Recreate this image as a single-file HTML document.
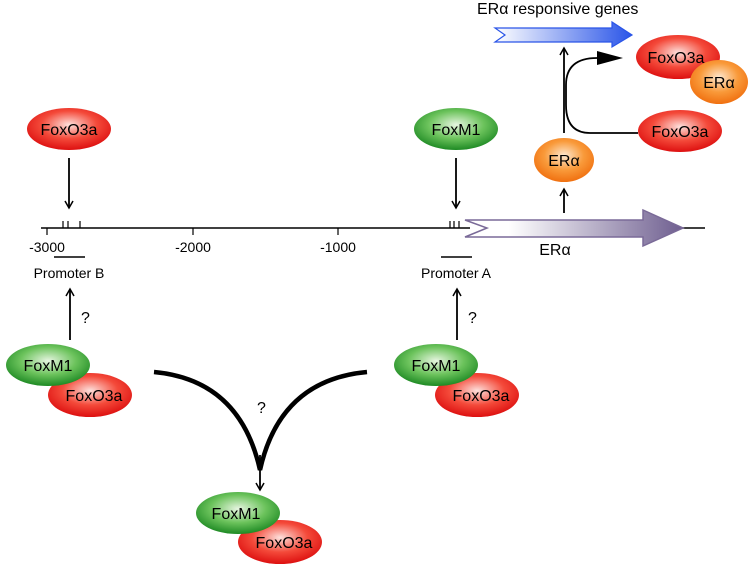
<!DOCTYPE html>
<html><head><style>body{margin:0;background:#fff}svg{display:block}</style></head><body>
<svg width="756" height="572" viewBox="0 0 756 572" xmlns="http://www.w3.org/2000/svg" font-family="Liberation Sans, sans-serif">
<defs>
<radialGradient id="g" cx="50%" cy="40%" r="60%"><stop offset="0" stop-color="#e6f5e0"/><stop offset="0.55" stop-color="#6cc35c"/><stop offset="1" stop-color="#1e8a24"/></radialGradient>
<radialGradient id="r" cx="50%" cy="40%" r="60%"><stop offset="0" stop-color="#fde0dc"/><stop offset="0.55" stop-color="#f44a3a"/><stop offset="1" stop-color="#dd1010"/></radialGradient>
<radialGradient id="o" cx="50%" cy="40%" r="60%"><stop offset="0" stop-color="#fde8d0"/><stop offset="0.55" stop-color="#f99a3a"/><stop offset="1" stop-color="#f07010"/></radialGradient>
<linearGradient id="pu" x1="0" x2="1"><stop offset="0" stop-color="#fff"/><stop offset="0.2" stop-color="#fff"/><stop offset="1" stop-color="#6f5f90"/></linearGradient>
<linearGradient id="bl" x1="0" x2="1"><stop offset="0" stop-color="#fff"/><stop offset="1" stop-color="#2a55e8"/></linearGradient>
<marker id="a" markerWidth="10" markerHeight="10" refX="8" refY="5" orient="auto" markerUnits="userSpaceOnUse"><path d="M1,1 L8,5 L1,9" fill="none" stroke="#000" stroke-width="1.5"/></marker>
</defs>
<g font-size="15" fill="#000">
<line x1="41" y1="228" x2="470" y2="228" stroke="#000" stroke-width="1.5"/>
<line x1="680" y1="228" x2="705" y2="228" stroke="#000" stroke-width="1.5"/>
<polygon points="465,220 643,220 643,210 683,228 643,246 643,237 465,237 487,228" fill="url(#pu)" stroke="#7a6a98" stroke-width="1.5"/>
<text x="555" y="255" text-anchor="middle" font-size="16">ERα</text>
<g stroke="#000" stroke-width="1.2">
<line x1="47" y1="228" x2="47" y2="235"/><line x1="193" y1="228" x2="193" y2="235"/><line x1="338" y1="228" x2="338" y2="235"/>
<line x1="63" y1="221" x2="63" y2="228"/><line x1="68" y1="221" x2="68" y2="228"/><line x1="80" y1="221" x2="80" y2="228"/>
<line x1="450" y1="221" x2="450" y2="228"/><line x1="454" y1="221" x2="454" y2="228"/><line x1="459" y1="221" x2="459" y2="228"/>
<line x1="54" y1="257" x2="85" y2="257" stroke-width="1.5"/><line x1="441" y1="257" x2="472" y2="257" stroke-width="1.5"/>
</g>
<g font-size="14" text-anchor="middle">
<text x="47" y="252">-3000</text><text x="193" y="252">-2000</text><text x="338" y="252">-1000</text>
<text x="69" y="278">Promoter B</text><text x="456" y="278">Promoter A</text>
</g>
<g stroke="#000" stroke-width="1.8" fill="none" marker-end="url(#a)">
<line x1="69" y1="158" x2="69" y2="208"/>
<line x1="456" y1="158" x2="456" y2="208"/>
<line x1="564" y1="213" x2="564" y2="189"/>
<line x1="564" y1="133" x2="564" y2="48"/>
<line x1="70" y1="340" x2="70" y2="289"/>
<line x1="457" y1="340" x2="457" y2="289"/>
<line x1="260" y1="455" x2="260" y2="490"/>
</g>
<path d="M638,133 L590,133 Q566,133 566,105 L566,85 Q566,58 597,58" fill="none" stroke="#000" stroke-width="1.8"/>
<polygon points="597,51 623,58 597,65" fill="#000"/>
<path d="M154,372 Q240,380 260,470 Q280,380 367,372" fill="none" stroke="#000" stroke-width="4.5"/>
<text x="81" y="323" font-size="16">?</text><text x="468" y="323" font-size="16">?</text><text x="257" y="413" font-size="16">?</text>
<polygon points="495,28 612,28 612,22 632,35 612,47 612,42 495,42 505,35" fill="url(#bl)" stroke="#2a55e8" stroke-width="1.2"/>
<text x="477" y="14" font-size="16">ERα responsive genes</text>
<g text-anchor="middle" font-size="16">
<ellipse cx="69" cy="129" rx="42" ry="21" fill="url(#r)"/><text x="69" y="135">FoxO3a</text>
<ellipse cx="456" cy="129" rx="42" ry="21" fill="url(#g)"/><text x="456" y="135">FoxM1</text>
<ellipse cx="564" cy="160" rx="30" ry="22" fill="url(#o)"/><text x="564" y="166">ERα</text>
<ellipse cx="678" cy="57" rx="42" ry="22" fill="url(#r)"/><text x="676" y="63">FoxO3a</text>
<ellipse cx="719" cy="82" rx="29" ry="22" fill="url(#o)"/><text x="719" y="88">ERα</text>
<ellipse cx="680" cy="131" rx="42" ry="21" fill="url(#r)"/><text x="680" y="137">FoxO3a</text>
<ellipse cx="90" cy="395" rx="42" ry="22" fill="url(#r)"/><text x="94" y="401">FoxO3a</text>
<ellipse cx="48" cy="365" rx="42" ry="21" fill="url(#g)"/><text x="48" y="371">FoxM1</text>
<ellipse cx="477" cy="395" rx="42" ry="22" fill="url(#r)"/><text x="481" y="401">FoxO3a</text>
<ellipse cx="436" cy="365" rx="42" ry="21" fill="url(#g)"/><text x="436" y="371">FoxM1</text>
<ellipse cx="280" cy="542" rx="42" ry="22" fill="url(#r)"/><text x="284" y="548">FoxO3a</text>
<ellipse cx="238" cy="513" rx="42" ry="21" fill="url(#g)"/><text x="236" y="519">FoxM1</text>
</g>
</g>
</svg>
</body></html>
